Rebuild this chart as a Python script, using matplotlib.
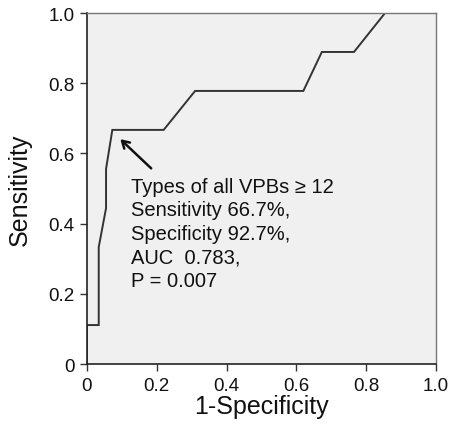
import matplotlib
matplotlib.use("Agg")
import matplotlib.pyplot as plt

plt.rcParams['font.family'] = ['Liberation Sans', 'DejaVu Sans']

fpr = [0, 0, 0.034, 0.034, 0.055, 0.055, 0.073, 0.22, 0.31, 0.62, 0.673, 0.765, 0.854, 1.0]
tpr = [0, 0.111, 0.111, 0.333, 0.444, 0.556, 0.667, 0.667, 0.778, 0.778, 0.889, 0.889, 1.0, 1.0]
ticks = [0, 0.2, 0.4, 0.6, 0.8, 1.0]
tick_labels = ["0", "0.2", "0.4", "0.6", "0.8", "1.0"]
annot_lines = ["Types of all VPBs \u2265 12", "Sensitivity 66.7%,", "Specificity 92.7%,",
               "AUC  0.783,", "P = 0.007"]
arrow_head = (0.09, 0.646)
arrow_tail = (0.19, 0.552)

fig = plt.figure(figsize=(4.5, 4.31), dpi=100)
ax = fig.add_axes([0.193, 0.1531, 0.776, 0.8144])
ax.set_facecolor('#f0f0f0')
ax.plot(fpr, tpr, color='#333333', lw=1.4, solid_joinstyle='miter')
ax.set_xlim(0, 1)
ax.set_ylim(0, 1)
ax.set_xticks(ticks)
ax.set_xticklabels(tick_labels)
ax.set_yticks(ticks)
ax.set_yticklabels(tick_labels)
ax.tick_params(direction='out', length=5, width=1, colors='#333333', labelsize=13.5,
               labelcolor='#111111', pad=4)
for s in ['left', 'bottom']:
    ax.spines[s].set_color('#222222')
    ax.spines[s].set_linewidth(1.2)
for s in ['top', 'right']:
    ax.spines[s].set_color('#777777')
    ax.spines[s].set_linewidth(1.0)
ax.set_xlabel("1-Specificity", fontsize=18, color='#111111', labelpad=0)
ax.set_ylabel("Sensitivity", fontsize=18, color='#111111', labelpad=12)

ax.annotate("", xy=arrow_head, xytext=arrow_tail,
            arrowprops=dict(arrowstyle='->,head_length=0.5,head_width=0.3', color='#111111', lw=1.8))
ax.text(0.126, 0.534, "\n".join(annot_lines), fontsize=14.5, color='#111111',
        va='top', ha='left', linespacing=1.3)

fig.savefig("out.png", dpi=100)
